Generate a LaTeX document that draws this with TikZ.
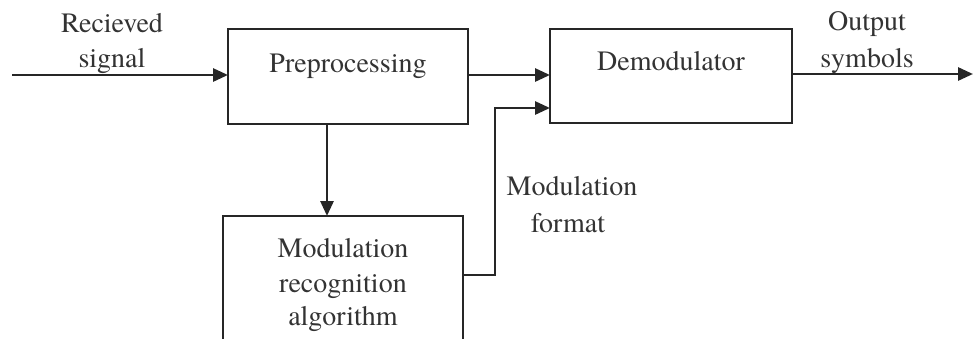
\documentclass[tikz,border=0pt]{standalone}
\usepackage{fontspec}
\setmainfont{TeX Gyre Termes}
\usetikzlibrary{arrows.meta}
\definecolor{ln}{HTML}{262626}
\definecolor{tx}{HTML}{333333}
\begin{document}
\begin{tikzpicture}[x=1pt,y=-1pt,
  box/.style={draw=ln,line width=2.8pt,minimum width=#1,inner sep=0pt,outer sep=0pt},
  lbl/.style={text=tx,font=\fontsize{28}{36}\selectfont,align=center,inner sep=0pt,anchor=base},
  arr/.style={draw=ln,line width=2.8pt,-{Triangle[length=15pt,width=13pt]}},
  ln/.style={draw=ln,line width=2.8pt}]
\useasboundingbox (0,0) rectangle (973,338);
\clip (0,0) rectangle (973,338);
\fill[white] (0,0) rectangle (973,338);
% boxes
\node[box=240pt,minimum height=95pt] (pre) at (348,76.5) {};
\node[box=242pt,minimum height=94pt] (demod) at (671,76) {};
\node[box=240pt,minimum height=144pt] (mra) at (343,288) {};
% texts
\node[lbl] (pret) at (348,72) {Preprocessing};
\node[lbl] (demt) at (671,70) {Demodulator};
\node[lbl] (mra1) at (343,257) {Modulation};
\node[lbl] (mra2) at (343,292) {recognition};
\node[lbl] (mra3) at (343,325) {algorithm};
\node[lbl] (rec1) at (112,32) {Recieved};
\node[lbl] (rec2) at (112,67) {signal};
\node[lbl] (out1) at (867,30) {Output};
\node[lbl] (out2) at (867,67) {symbols};
\node[lbl] (mf1) at (572,195) {Modulation};
\node[lbl] (mf2) at (568,232) {format};
% coordinates
\coordinate (in) at (12,75);
\coordinate (out) at (973,74);
\coordinate (c1) at (495,275);
\coordinate (c2) at (495,108);
\coordinate (dn) at (327,0);
% connectors
\draw[arr] (in) -- (in -| pre.west);
\draw[arr] (pre.east |- in) -- (demod.west |- in);
\draw[arr] (demod.east |- out) -- (out);
\draw[arr] (dn |- pre.south) -- (dn |- mra.north);
\draw[arr] (mra.east |- c1) -- (c1) -- (c2) -- (demod.west |- c2);
\end{tikzpicture}
\end{document}
